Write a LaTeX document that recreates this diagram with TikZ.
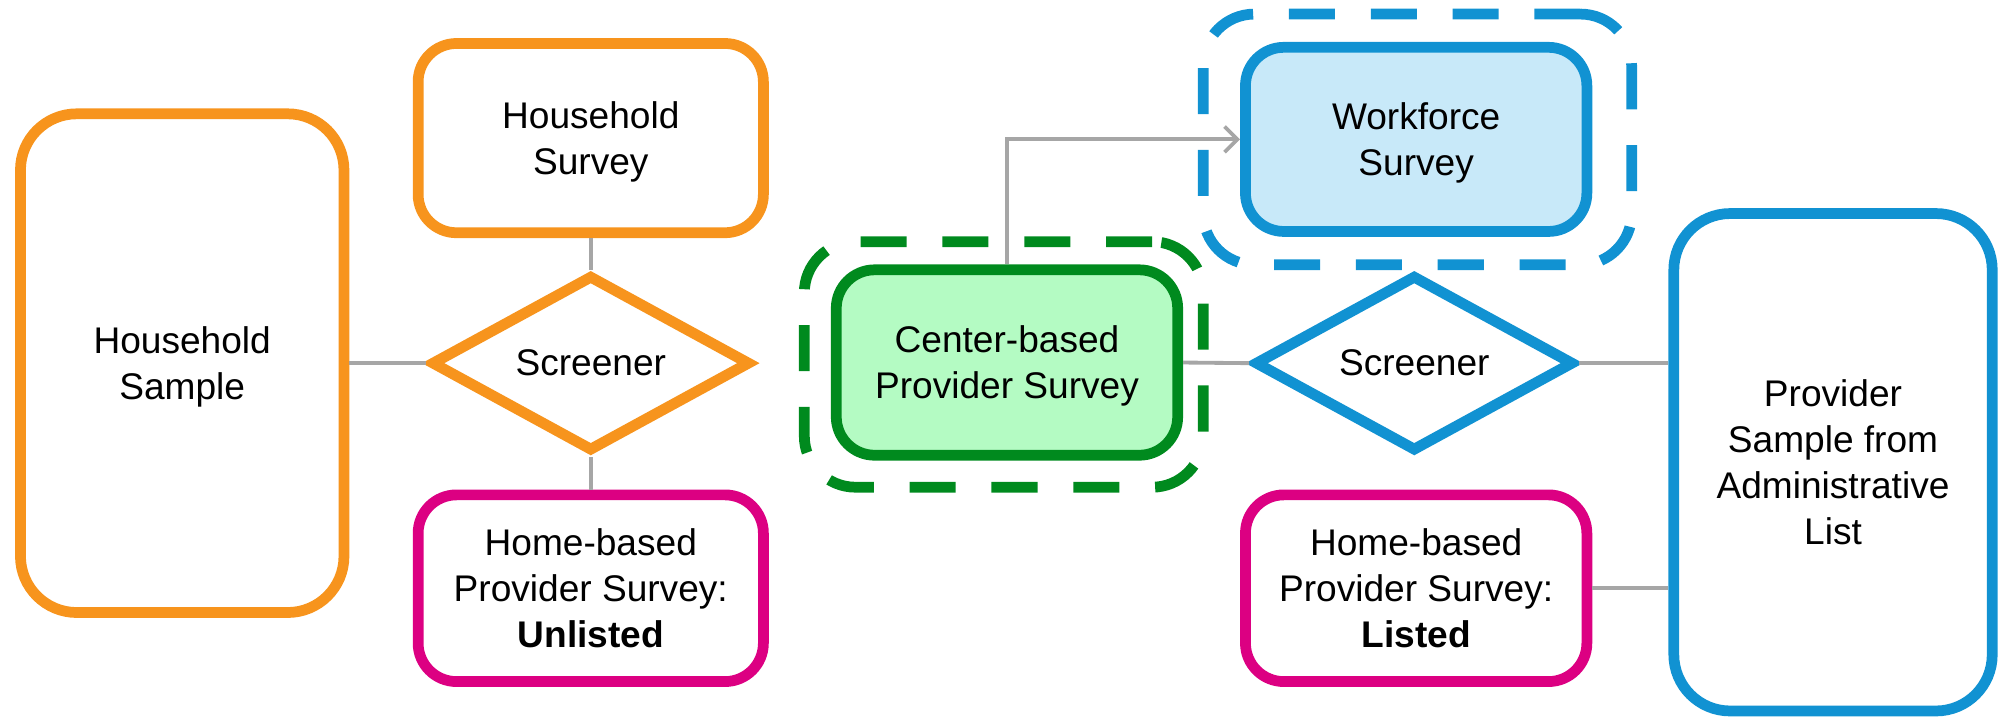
\documentclass[tikz,border=0pt]{standalone}
\usepackage{fontspec}
\setmainfont{Liberation Sans}
\usetikzlibrary{shapes.geometric,arrows.meta}
\definecolor{orng}{RGB}{247,148,29}
\definecolor{mgnt}{RGB}{220,0,130}
\definecolor{blu}{RGB}{17,146,210}
\definecolor{lblu}{RGB}{200,233,249}
\definecolor{grn}{RGB}{0,138,30}
\definecolor{lgrn}{RGB}{180,251,195}
\definecolor{gry}{RGB}{166,166,166}
\tikzset{
  box/.style={draw, line width=4.2pt, rounded corners=15pt, align=center, inner sep=0pt,
    font=\fontsize{14.5pt}{18pt}\selectfont, fill=white, text depth=0pt},
  tall/.style={box, rounded corners=22pt},
  dia/.style={draw, diamond, line width=4.2pt, inner sep=0pt, aspect=1.8, fill=white,
    minimum width=125pt, minimum height=69pt, font=\fontsize{14.5pt}{18pt}\selectfont},
  dashbox/.style={draw, line width=4.2pt, rounded corners=20pt, dash pattern=on 18pt off 14pt},
  conn/.style={draw=gry, line width=1.5pt},
}
\begin{document}
\begin{tikzpicture}[x=0.5pt,y=-0.5pt]
\useasboundingbox (0,0) rectangle (1568,564);
% dashed outlines
\node[dashbox, draw=grn, minimum width=156pt, minimum height=96pt] (cbd) at (785,285) {};
\node[dashbox, draw=blu, minimum width=167.5pt, minimum height=98pt] (wfd) at (1108.5,109) {};
% nodes
\node[tall, draw=orng, minimum width=126.5pt, minimum height=195pt] (hs) at (142.5,284) {Household\\Sample};
\node[box, draw=orng, minimum width=135pt, minimum height=74pt] (hsv) at (462,108) {Household\\Survey};
\node[dia, draw=orng] (scr1) at (462,284) {Screener};
\node[box, draw=mgnt, minimum width=135pt, minimum height=73pt] (hbu) at (462,460) {Home-based\\Provider Survey:\\\textbf{Unlisted}};
\node[box, draw=grn, fill=lgrn, minimum width=133.5pt, minimum height=72.5pt] (cb) at (787.5,283.5) {Center-based\\Provider Survey};
\node[box, draw=blu, fill=lblu, minimum width=133.5pt, minimum height=72pt] (wf) at (1107.5,109) {Workforce\\Survey};
\node[dia, draw=blu] (scr2) at (1106,284) {Screener};
\node[box, draw=mgnt, minimum width=133.5pt, minimum height=73pt] (hbl) at (1107.5,460) {Home-based\\Provider Survey:\\\textbf{Listed}};
\node[tall, draw=blu, minimum width=124.5pt, minimum height=194.5pt] (ps) at (1433.5,361.5) {Provider\\Sample from\\Administrative\\List};
% connectors
\draw[conn] (hs.east) -- (scr1.west);
\draw[conn] (hsv.south) -- (scr1.north);
\draw[conn] (scr1.south) -- (hbu.north);
\draw[conn] (cb.east) -- (scr2.west);
\draw[conn] (scr2.east) -- (scr2.east -| ps.west);
\draw[conn] (hbl.east) -- (hbl.east -| ps.west);
\draw[conn, -{Straight Barb[length=5pt,width=10pt,line width=1.5pt]}] (cb.north) |- (wf.west);
\end{tikzpicture}
\end{document}
